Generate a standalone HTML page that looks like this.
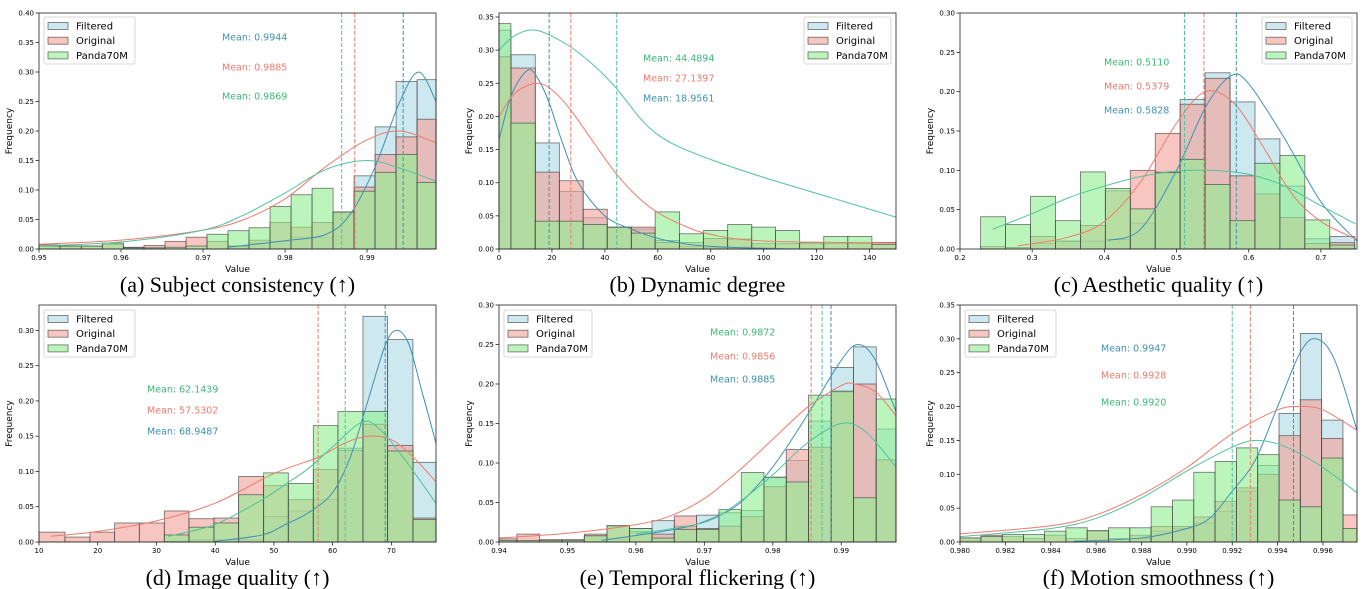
<!DOCTYPE html>
<html><head><meta charset="utf-8"><style>
body{margin:0;background:#fff;width:1364px;height:589px;overflow:hidden}
svg{display:block}
text{font-family:"DejaVu Sans","Liberation Sans",sans-serif}
.cap{font-family:"Liberation Serif",serif;font-size:22px}
</style></head><body>
<svg id="s" width="1364" height="589" xmlns="http://www.w3.org/2000/svg"></svg>
<script>
const S=document.getElementById('s');let out='';
const CB='#3f91b4',CR='#ef7b6d',CG='#52c29c',TG='#3db87a';
function smooth(pts){let d='M'+pts[0][0]+','+pts[0][1];for(let i=0;i<pts.length-1;i++){const p0=pts[i-1]||pts[i],p1=pts[i],p2=pts[i+1],p3=pts[i+2]||p2;const c1=[p1[0]+(p2[0]-p0[0])/6,p1[1]+(p2[1]-p0[1])/6],c2=[p2[0]-(p3[0]-p1[0])/6,p2[1]-(p3[1]-p1[1])/6];d+=`C${c1[0]},${c1[1]} ${c2[0]},${c2[1]} ${p2[0]},${p2[1]}`;}return d;}
function panel(P){
const {L,R,T,B,x0,x1,y1}=P;const X=v=>L+(v-x0)/(x1-x0)*(R-L),Y=v=>B-v/y1*(B-T);
let g='';
const e=P.edges;
[['b','#add8e6'],['r','#f4a098'],['g','#90ee90']].forEach(([k,c],ki)=>{
P.h.forEach((h,i)=>{const v=h[ki];if(!v)return;const xa=X(e[i]),xb=X(e[i+1]);g+=`<rect x="${xa}" y="${Y(v)}" width="${xb-xa}" height="${B-Y(v)}" fill="${c}" fill-opacity="0.6" stroke="#333" stroke-opacity="0.7" stroke-width="0.8"/>`;});});
[[P.cb,CB],[P.cr,CR],[P.cg,CG]].forEach(([c,col])=>{g+=`<path d="${smooth(c.map(p=>[X(p[0]),Y(p[1])]))}" fill="none" stroke="${col}" stroke-width="1"/>`;});
[[P.mb,CB],[P.mr,CR],[P.mg,CG]].forEach(([m,col])=>{g+=`<line x1="${X(m)}" x2="${X(m)}" y1="${T}" y2="${B}" stroke="${col}" stroke-width="1" stroke-dasharray="4,2"/>`;});
g+=`<rect x="${L}" y="${T}" width="${R-L}" height="${B-T}" fill="none" stroke="#222" stroke-width="0.8"/>`;
P.yt.forEach(v=>{const y=Y(v);g+=`<line x1="${L-3.5}" x2="${L}" y1="${y}" y2="${y}" stroke="#222" stroke-width="0.8"/><text x="${L-5}" y="${y+2.5}" font-size="7" text-anchor="end">${v.toFixed(2)}</text>`;});
P.xt.forEach(v=>{const x=X(v);g+=`<line x1="${x}" x2="${x}" y1="${B}" y2="${B+3.5}" stroke="#222" stroke-width="0.8"/><text x="${x}" y="${B+11}" font-size="7" text-anchor="middle">${P.xf(v)}</text>`;});
g+=`<text x="${(L+R)/2}" y="${B+23}" font-size="9" text-anchor="middle">Value</text>`;
g+=`<text transform="translate(${P.yl},${(T+B)/2}) rotate(-90)" font-size="9" text-anchor="middle">Frequency</text>`;
P.mt.forEach(([t,y,c])=>{g+=`<text x="${P.mx}" y="${y+3.5}" font-size="9.5" fill="${c}">${t}</text>`;});
const lx=P.lg[0],ly=P.lg[1];
g+=`<rect x="${lx}" y="${ly}" width="${P.lg[2]}" height="47" fill="#fff" fill-opacity="0.8" stroke="#ccc" stroke-width="0.8" rx="2"/>`;
[['Filtered','#add8e6'],['Original','#f4a098'],['Panda70M','#90ee90']].forEach(([t,c],i)=>{const yy=ly+9+i*14.7;g+=`<rect x="${lx+4}" y="${yy-3.5}" width="20" height="7" fill="${c}" fill-opacity="0.6" stroke="#333" stroke-opacity="0.7" stroke-width="0.8"/><text x="${lx+32}" y="${yy+3.5}" font-size="10">${t}</text>`;});
g+=`<text class="cap" x="${(L+R)/2}" y="${P.cy}" text-anchor="middle">${P.cap}</text>`;
out+=g;}
const rng=(a,b,s)=>{let r=[];for(let v=a;v<=b+s/1e4;v+=s)r.push(+v.toFixed(6));return r;};
const ze=(zs,z0,per,v0)=>zs.map(z=>v0+(z-z0)/per);
// a
panel({L:39,R:436,T:13,B:249,x0:0.95,x1:0.9984,y1:0.40,
edges:ze([118,181,245,308,371,433,496,559,622,685,748,811,874,937,1000,1063,1126,1189,1252,1309],118,24600,0.95),
h:[[0,.007,.005],[0,.005,.005],[0,.005,.005],[0,.008,.01],[0,.003,.002],[0,.006,.002],[0,.013,.003],[0,.02,.005],[0,.013,.025],[.005,.005,.031],[.01,.015,.036],[.013,.045,.072],[.02,.037,.092],[.02,.045,.103],[.062,.062,.063],[.124,.105,.098],[.207,.16,.13],[.284,.19,.16],[.287,.22,.113]],
cr:[[0.95,.008],[0.96,.015],[0.97,.032],[0.975,.05],[0.98,.085],[0.985,.14],[0.99,.185],[0.994,.2],[0.9984,.18]],
cg:[[0.95,.005],[0.96,.012],[0.97,.032],[0.975,.058],[0.98,.095],[0.985,.135],[0.99,.15],[0.994,.137],[0.9984,.115]],
cb:[[0.973,.003],[0.98,.014],[0.985,.025],[0.988,.06],[0.991,.14],[0.994,.25],[0.9963,.30],[0.9984,.25]],
mb:.9944,mr:.9885,mg:.9869,yt:rng(0,.4,.05),xt:rng(.95,.99,.01),xf:v=>v.toFixed(2),yl:12,
mx:222,mt:[['Mean: 0.9944',37,CB],['Mean: 0.9885',67,CR],['Mean: 0.9869',96,TG]],lg:[44,17,91],cy:292,cap:'(a) Subject consistency (↑)'});
// b
panel({L:499,R:896,T:13,B:249,x0:0,x1:150,y1:0.356,
edges:[0,4.5,13.7,22.8,31.8,40.9,50,59,68.2,77.3,86.4,95.5,104.5,113.6,122.7,131.8,140.9,150],
h:[[.33,.29,.34],[.293,.273,.19],[.16,.116,.042],[.087,.103,.042],[.047,.06,.037],[.032,.033,.033],[.03,.033,.024],[.013,.01,.056],[.004,.01,.023],[.002,.016,.028],[.003,.015,.037],[.002,.008,.033],[0,.008,.028],[0,.008,.01],[0,.008,.019],[0,.008,.019],[0,.01,.007]],
cg:[[0,.30],[6,.322],[14,.33],[25,.31],[35,.28],[44,.244],[55,.19],[65,.16],[80,.135],[100,.108],[125,.078],[150,.048]],
cr:[[0,.2],[6,.235],[14,.25],[20,.24],[27,.21],[35,.165],[44,.115],[52,.08],[60,.055],[70,.035],[80,.022],[100,.012],[150,.009]],
cb:[[0,.165],[5,.235],[11,.27],[15,.255],[19,.22],[24,.16],[30,.1],[40,.05],[50,.03],[60,.016],[70,.008],[80,.004],[100,.001],[115,0]],
mb:18.9561,mr:27.1397,mg:44.4894,yt:rng(0,.35,.05),xt:rng(0,140,20),xf:v=>v.toFixed(0),yl:472,
mx:643,mt:[['Mean: 44.4894',58,TG],['Mean: 27.1397',78,CR],['Mean: 18.9561',98,CB]],lg:[804,17,87],cy:292,cap:'(b) Dynamic degree'});
// c
const ce=[];for(let k=0;k<=15;k++)ce.push(Math.min(0.75,0.2286+k*0.03455));
panel({L:960,R:1357,T:13,B:249,x0:0.2,x1:0.75,y1:0.30,edges:ce,
h:[[0,.003,.041],[0,.002,.031],[.007,.016,.067],[.01,.01,.036],[.01,.03,.098],[.012,.074,.077],[.033,.1,.051],[.098,.147,.097],[.19,.184,.114],[.224,.217,.082],[.187,.093,.036],[.14,.07,.109],[.08,.04,.119],[.013,.007,.037],[.016,.008,.005]],
cg:[[0.245,.025],[0.3,.045],[0.35,.065],[0.4,.08],[0.45,.092],[0.5,.099],[0.55,.1],[0.6,.095],[0.65,.08],[0.7,.055],[0.748,.032]],
cr:[[0.28,.004],[0.35,.015],[0.4,.035],[0.45,.085],[0.5,.16],[0.54,.2],[0.58,.185],[0.62,.13],[0.66,.07],[0.7,.035],[0.75,.012]],
cb:[[0.405,.011],[0.45,.025],[0.5,.1],[0.54,.18],[0.575,.22],[0.6,.21],[0.65,.14],[0.7,.06],[0.75,.01]],
mb:.5828,mr:.5379,mg:.5110,yt:rng(0,.3,.05),xt:rng(.2,.7,.1),xf:v=>v.toFixed(1),yl:933,
mx:1104,mt:[['Mean: 0.5110',62,TG],['Mean: 0.5379',86,CR],['Mean: 0.5828',110,CB]],lg:[1262,17,90],cy:292,cap:'(c) Aesthetic quality (↑)'});
// d
panel({L:39,R:436,T:305,B:542,x0:10,x1:77.6,y1:0.336,
edges:ze([118,196,271,345,419,494,568,643,717,792,866,941,1015,1090,1164,1240,1309],118,17.62,10),
h:[[0,.014,0],[0,.007,0],[0,.014,0],[0,.027,0],[0,.027,0],[.001,.044,.01],[.003,.033,.021],[.003,.034,.027],[.003,.093,.067],[.036,.08,.098],[.044,.06,.083],[.06,.103,.165],[.133,.13,.185],[.32,.167,.185],[.287,.137,.129],[.113,.034,.032]],
cr:[[12,.008],[20,.015],[30,.03],[40,.055],[50,.097],[57.5,.12],[62,.14],[66,.15],[70,.145],[74,.118],[77.6,.085]],
cg:[[32,.008],[40,.025],[48,.06],[52,.082],[56,.105],[60,.135],[65,.17],[68,.16],[72,.12],[77.6,.055]],
cb:[[40,.001],[48,.01],[52,.025],[56,.042],[60,.07],[63,.12],[66,.2],[69,.28],[71,.3],[73,.28],[75,.22],[77.6,.14]],
mb:68.9487,mr:57.5302,mg:62.1439,yt:rng(0,.3,.05),xt:rng(10,70,10),xf:v=>v.toFixed(0),yl:12,
mx:147,mt:[['Mean: 62.1439',389,TG],['Mean: 57.5302',410,CR],['Mean: 68.9487',431,CB]],lg:[44,310,91],cy:585,cap:'(d) Image quality (↑)'});
// e
panel({L:499,R:896,T:305,B:542,x0:0.94,x1:0.998,y1:0.30,
edges:ze([148,202,270,337,404,472,540,607,674,741,808,875,943,1010,1077,1145,1212,1280,1339],148,20540,0.94),
h:[[0,.004,.002],[0,.01,.002],[0,.003,.002],[0,.003,.002],[.007,.01,.008],[.004,.02,.021],[.017,.013,.017],[.027,.01,.005],[.02,.033,.016],[.034,.017,.016],[.037,.02,.041],[.04,.032,.088],[.082,.07,.082],[.103,.117,.076],[.153,.12,.186],[.221,.19,.191],[.247,.2,.056],[.143,.104,.181]],
cr:[[0.94,.005],[0.95,.011],[0.96,.022],[0.965,.033],[0.97,.055],[0.975,.09],[0.98,.13],[0.985,.17],[0.99,.198],[0.992,.2],[0.995,.19],[0.998,.16]],
cg:[[0.96,.01],[0.97,.025],[0.975,.05],[0.98,.085],[0.985,.125],[0.99,.15],[0.9935,.14],[0.998,.095]],
cb:[[0.955,.002],[0.965,.015],[0.97,.026],[0.975,.048],[0.98,.095],[0.985,.16],[0.99,.23],[0.9925,.25],[0.995,.23],[0.998,.165]],
mb:.9885,mr:.9856,mg:.9872,yt:rng(0,.3,.05),xt:rng(.94,.99,.01),xf:v=>v.toFixed(2),yl:472,
mx:710,mt:[['Mean: 0.9872',332,TG],['Mean: 0.9856',356,CR],['Mean: 0.9885',379,CB]],lg:[504,310,88],cy:585,cap:'(e) Temporal flickering (↑)'});
// f
panel({L:960,R:1357,T:305,B:542,x0:0.98,x1:0.9975,y1:0.35,
edges:ze([165,228,292,356,419,483,547,611,675,739,803,867,931,995,1059,1123,1187,1251,1315,1357],165,68125,0.98),
h:[[.002,.006,.006],[0,.01,.008],[0,.008,.011],[0,.005,.011],[0,.01,.016],[0,.005,.021],[.002,.016,.017],[0,.005,.021],[.005,.01,.021],[.016,.023,.052],[.02,.023,.062],[.028,.037,.103],[.045,.06,.119],[.075,.08,.139],[.113,.1,.129],[.19,.157,.062],[.308,.21,.052],[.18,.153,.124],[0,.04,.02]],
cr:[[0.98,.012],[0.984,.024],[0.986,.04],[0.988,.07],[0.99,.11],[0.992,.16],[0.994,.195],[0.995,.2],[0.996,.195],[0.9975,.165]],
cg:[[0.98,.008],[0.984,.02],[0.986,.035],[0.988,.065],[0.99,.105],[0.992,.14],[0.993,.15],[0.994,.145],[0.995,.13],[0.996,.11],[0.9975,.073]],
cb:[[0.985,.001],[0.988,.006],[0.99,.02],[0.991,.035],[0.992,.075],[0.993,.12],[0.994,.2],[0.995,.28],[0.9957,.30],[0.9965,.27],[0.9975,.165]],
mb:.9947,mr:.9928,mg:.9920,yt:rng(0,.35,.05),xt:rng(.98,.996,.002),xf:v=>v.toFixed(3),yl:933,
mx:1101,mt:[['Mean: 0.9947',348,CB],['Mean: 0.9928',375,CR],['Mean: 0.9920',402,TG]],lg:[965,310,91],cy:585,cap:'(f) Motion smoothness (↑)'});
S.innerHTML=out;
</script>
</body></html>
